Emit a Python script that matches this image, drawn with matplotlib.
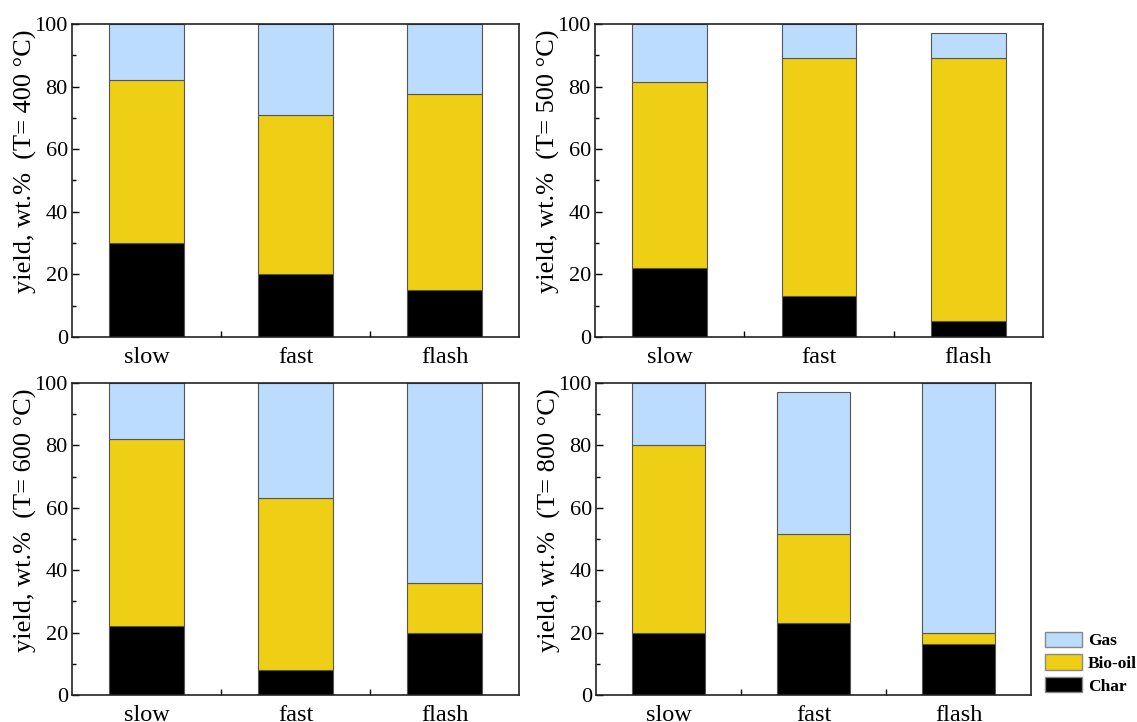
import matplotlib.pyplot as plt
import numpy as np
from matplotlib.ticker import MultipleLocator, FixedLocator
from matplotlib.patches import Patch

plt.rcParams["font.family"] = ["Liberation Serif", "DejaVu Serif"]

modes = ["slow", "fast", "flash"]
temps = [400, 500, 600, 800]

# segment heights (wt.%) per pyrolysis mode
char = {400: [30, 20, 15], 500: [22, 13, 5], 600: [22, 8, 20], 800: [20, 23, 16.5]}
biooil = {400: [52, 51, 62.5], 500: [59.5, 76, 84], 600: [60, 55, 16], 800: [60, 28.5, 3.5]}
gas = {400: [18, 29, 22.5], 500: [18.5, 11, 8], 600: [18, 37, 64], 800: [20, 45.5, 80]}

c_gas = "#bbdcfd"
c_oil = "#eecf16"
c_char = "#000000"
edge = "#555555"

W, H = 1137, 722
# axes boxes in pixels: left, top, right, bottom
boxes = {
    400: (72, 24, 519, 337),
    500: (595, 24, 1043, 337),
    600: (72, 383, 519, 695),
    800: (596, 383, 1031, 695),
}

fig = plt.figure(figsize=(W / 100, H / 100), dpi=100)
x = np.arange(1, len(modes) + 1)

for t in temps:
    l, tp, r, b = boxes[t]
    ax = fig.add_axes([l / W, (H - b) / H, (r - l) / W, (b - tp) / H])
    ch = np.array(char[t])
    oi = np.array(biooil[t])
    ga = np.array(gas[t])
    ax.bar(x, ch, 0.5, color=c_char, edgecolor=edge, linewidth=0.8, zorder=2)
    ax.bar(x, oi, 0.5, bottom=ch, color=c_oil, edgecolor=edge, linewidth=0.8, zorder=2)
    ax.bar(x, ga, 0.5, bottom=ch + oi, color=c_gas, edgecolor=edge, linewidth=0.8, zorder=2)
    ax.set_xlim(0.5, 3.5)
    ax.set_ylim(0, 100)
    ax.set_xticks(x)
    ax.set_xticklabels(modes, fontsize=17.5)
    ax.xaxis.set_minor_locator(FixedLocator([1.5, 2.5]))
    ax.yaxis.set_major_locator(MultipleLocator(20))
    ax.yaxis.set_minor_locator(MultipleLocator(10))
    ax.tick_params(axis="both", which="both", direction="in", top=False, right=False)
    ax.tick_params(axis="y", which="major", length=5, width=1, labelsize=16, pad=3)
    ax.tick_params(axis="y", which="minor", length=3, width=1)
    ax.tick_params(axis="x", which="major", length=0, pad=7)
    ax.tick_params(axis="x", which="minor", length=4, width=1)
    for s in ax.spines.values():
        s.set_linewidth(1.2)
        s.set_color("#222222")
        s.set_zorder(3)
    ax.set_ylabel(f"yield, wt.%  (T= {t} °C)", fontsize=19)
    ax.yaxis.set_label_coords(-35 / (r - l), 0.56)

handles = [Patch(facecolor=c_gas, edgecolor="#888888", label="Gas"),
           Patch(facecolor=c_oil, edgecolor="#888888", label="Bio-oil"),
           Patch(facecolor=c_char, edgecolor="#888888", label="Char")]
fig.legend(handles=handles, loc="lower left", bbox_to_anchor=(1042 / W, 24 / H),
           frameon=False, prop={"weight": "bold", "size": 12.5},
           handlelength=2.1, handleheight=1.0, handletextpad=0.35,
           labelspacing=0.28, borderaxespad=0, borderpad=0.2)

fig.savefig("out.png", dpi=100)
